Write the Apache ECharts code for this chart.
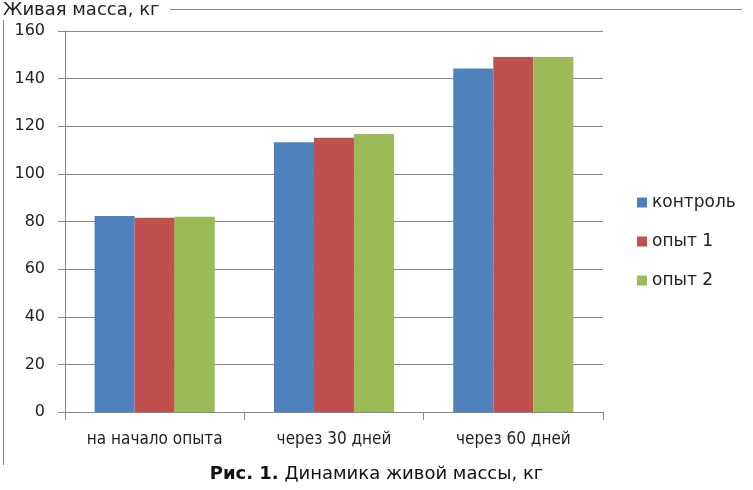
<!DOCTYPE html>
<html><head><meta charset="utf-8">
<script src="https://cdn.jsdelivr.net/npm/echarts@6/dist/echarts.min.js"></script>
<style>html,body{margin:0;padding:0;background:#fff}#c{width:753px;height:490px}</style>
</head><body><div id="c"></div>
<script>
const categories = ['на начало опыта', 'через 30 дней', 'через 60 дней'];
const control = [82.3, 113.3, 144.2];
const opyt1 = [81.6, 115.2, 149.1];
const opyt2 = [82.0, 116.7, 149.1];
const seriesNames = ['контроль', 'опыт 1', 'опыт 2'];
const colors = ['#4F81BD', '#C0504D', '#9BBB59'];

const chart = echarts.init(document.getElementById('c'), null, {renderer: 'canvas'});
const mk = (name, data, color) => ({
  name, type: 'bar', data, barGap: '0%', barCategoryGap: '33%',
  itemStyle: {color}
});
chart.setOption({
  animation: false,
  textStyle: {fontFamily: 'DejaVu Sans'},
  grid: {left: 65, right: 150, top: 31, bottom: 78},
  legend: {
    orient: 'vertical', left: 632, top: 189, itemWidth: 10, itemHeight: 10, itemGap: 22,
    icon: 'rect',
    textStyle: {fontSize: 17, color: '#222', fontFamily: 'DejaVu Sans'},
    data: seriesNames
  },
  xAxis: {
    type: 'category', data: categories,
    axisLine: {lineStyle: {color: '#888', width: 1}},
    axisTick: {show: true, interval: 0, length: 8, lineStyle: {color: '#888'}},
    axisLabel: {interval: 0, fontSize: 17, color: '#222', margin: 19, fontFamily: 'DejaVu Sans Condensed'}
  },
  yAxis: {
    type: 'value', min: 0, max: 160, interval: 20,
    axisLine: {show: true, lineStyle: {color: '#888', width: 1}},
    axisTick: {show: true, length: 7, lineStyle: {color: '#888'}},
    splitLine: {lineStyle: {color: '#888', width: 1}},
    axisLabel: {fontSize: 16, color: '#222', margin: 20}
  },
  graphic: [
    {type: 'text', left: 3, top: 1, style: {text: 'Живая масса, кг', fontSize: 18, fill: '#222', fontFamily: 'DejaVu Sans'}},
    {type: 'line', shape: {x1: 170, y1: 9.5, x2: 742, y2: 9.5}, style: {stroke: '#888', lineWidth: 1}},
    {type: 'line', shape: {x1: 3.5, y1: 20, x2: 3.5, y2: 465}, style: {stroke: '#888', lineWidth: 1}},
    {type: 'text', left: 'center', top: 465, style: {
      text: '{b|Рис. 1.} Динамика живой массы, кг',
      rich: {b: {fontWeight: 'bold', fontSize: 18, fontFamily: 'DejaVu Sans', fill: '#111'}},
      fontSize: 18, fill: '#111', fontFamily: 'DejaVu Sans'}}
  ],
  series: [mk(seriesNames[0], control, colors[0]), mk(seriesNames[1], opyt1, colors[1]), mk(seriesNames[2], opyt2, colors[2])]
});
</script></body></html>
